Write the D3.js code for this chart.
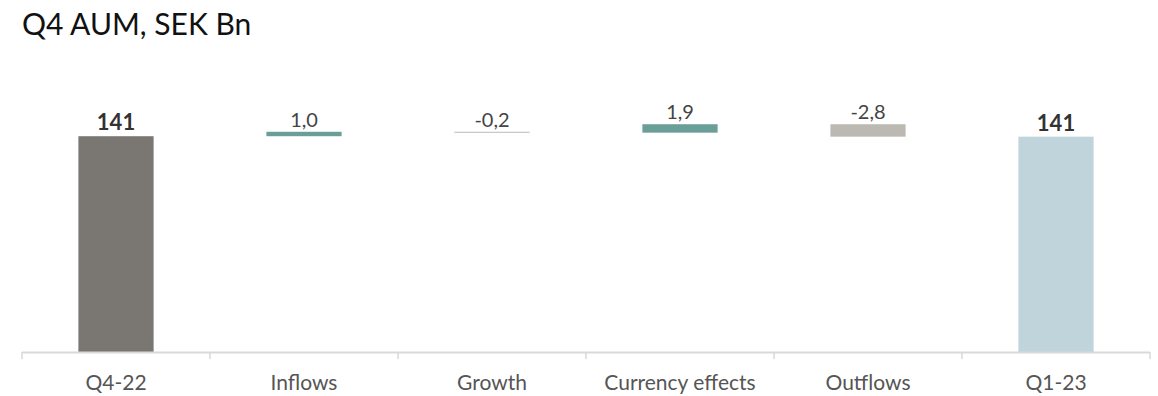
<!DOCTYPE html>
<html>
<head>
<meta charset="utf-8">
<script src="https://cdn.jsdelivr.net/npm/d3@7"></script>
<style>
  html, body { margin: 0; padding: 0; background: #fff; }
  svg { display: block; font-family: Lato, "Noto Sans", sans-serif; }
</style>
</head>
<body>
<svg id="chart" width="1158" height="396"></svg>
<script>
// waterfall steps, SEK Bn
var categories = ['Q4-22', 'Inflows', 'Growth', 'Currency effects', 'Outflows', 'Q1-23'];
var kinds = ['total', 'delta', 'delta', 'delta', 'delta', 'total'];
var values = [140.6, 1.0, -0.2, 1.9, -2.8, 140.5];
var valueLabels = ['141', '1,0', '-0,2', '1,9', '-2,8', '141'];
var colors = ['#7a7672', '#6a9f99', '#bdbab5', '#6a9f99', '#bcb9b3', '#c0d4dc'];

var svg = d3.select('#chart');
var axisY = 352;

var x = d3.scaleBand()
  .domain(categories)
  .range([22, 1150])
  .padding(0);

var y = d3.scaleLinear()
  .domain([92, 150])
  .range([axisY, axisY - 58 * 4.44]);

// build waterfall segments
var running = 0;
var segs = categories.map(function(c, i) {
  var v = values[i];
  var lo, hi;
  if (kinds[i] === 'total') {
    lo = y.domain()[0];
    hi = v;
    running = v;
  } else {
    var next = running + v;
    lo = Math.min(running, next);
    hi = Math.max(running, next);
    running = next;
  }
  return { c: c, lo: lo, hi: hi, i: i };
});

svg.append('text')
  .attr('x', 22)
  .attr('y', 35)
  .attr('font-size', 30)
  .attr('fill', '#111')
  .text('Q4 AUM, SEK Bn');

var barW = x.bandwidth() * 0.4;

svg.selectAll('rect.bar')
  .data(segs)
  .enter().append('rect')
  .attr('class', 'bar')
  .attr('x', function(d) { return x(d.c) + (x.bandwidth() - barW) / 2; })
  .attr('width', barW)
  .attr('y', function(d) { return y(d.hi); })
  .attr('height', function(d) { return Math.max(1, y(d.lo) - y(d.hi)); })
  .attr('fill', function(d) { return colors[d.i]; });

svg.selectAll('text.val')
  .data(segs)
  .enter().append('text')
  .attr('class', 'val')
  .attr('x', function(d) { return x(d.c) + x.bandwidth() / 2; })
  .attr('y', function(d) { return y(d.hi) - (kinds[d.i] === 'total' ? 6 : 5); })
  .attr('text-anchor', 'middle')
  .attr('font-size', function(d) { return kinds[d.i] === 'total' ? 22 : 20; })
  .attr('font-weight', function(d) { return kinds[d.i] === 'total' ? 'bold' : 'normal'; })
  .attr('fill', function(d) { return kinds[d.i] === 'total' ? '#333' : '#444'; })
  .text(function(d) { return valueLabels[d.i]; });

// category axis
var axis = svg.append('g')
  .attr('transform', 'translate(0,' + axisY + ')');

axis.append('line')
  .attr('x1', 22).attr('x2', 1150)
  .attr('y1', 0.5).attr('y2', 0.5)
  .attr('stroke', '#d9d9d9')
  .attr('stroke-width', 2);

var tickXs = categories.map(function(c) { return x(c); }).concat([x.range()[1]]);
axis.selectAll('line.tick')
  .data(tickXs)
  .enter().append('line')
  .attr('class', 'tick')
  .attr('x1', function(d) { return d; })
  .attr('x2', function(d) { return d; })
  .attr('y1', 0).attr('y2', 7)
  .attr('stroke', '#d9d9d9')
  .attr('stroke-width', 1.5);

axis.selectAll('text.cat')
  .data(categories)
  .enter().append('text')
  .attr('class', 'cat')
  .attr('x', function(d) { return x(d) + x.bandwidth() / 2; })
  .attr('y', 38)
  .attr('text-anchor', 'middle')
  .attr('font-size', 21)
  .attr('fill', '#555')
  .text(function(d) { return d; });
</script>
</body>
</html>
